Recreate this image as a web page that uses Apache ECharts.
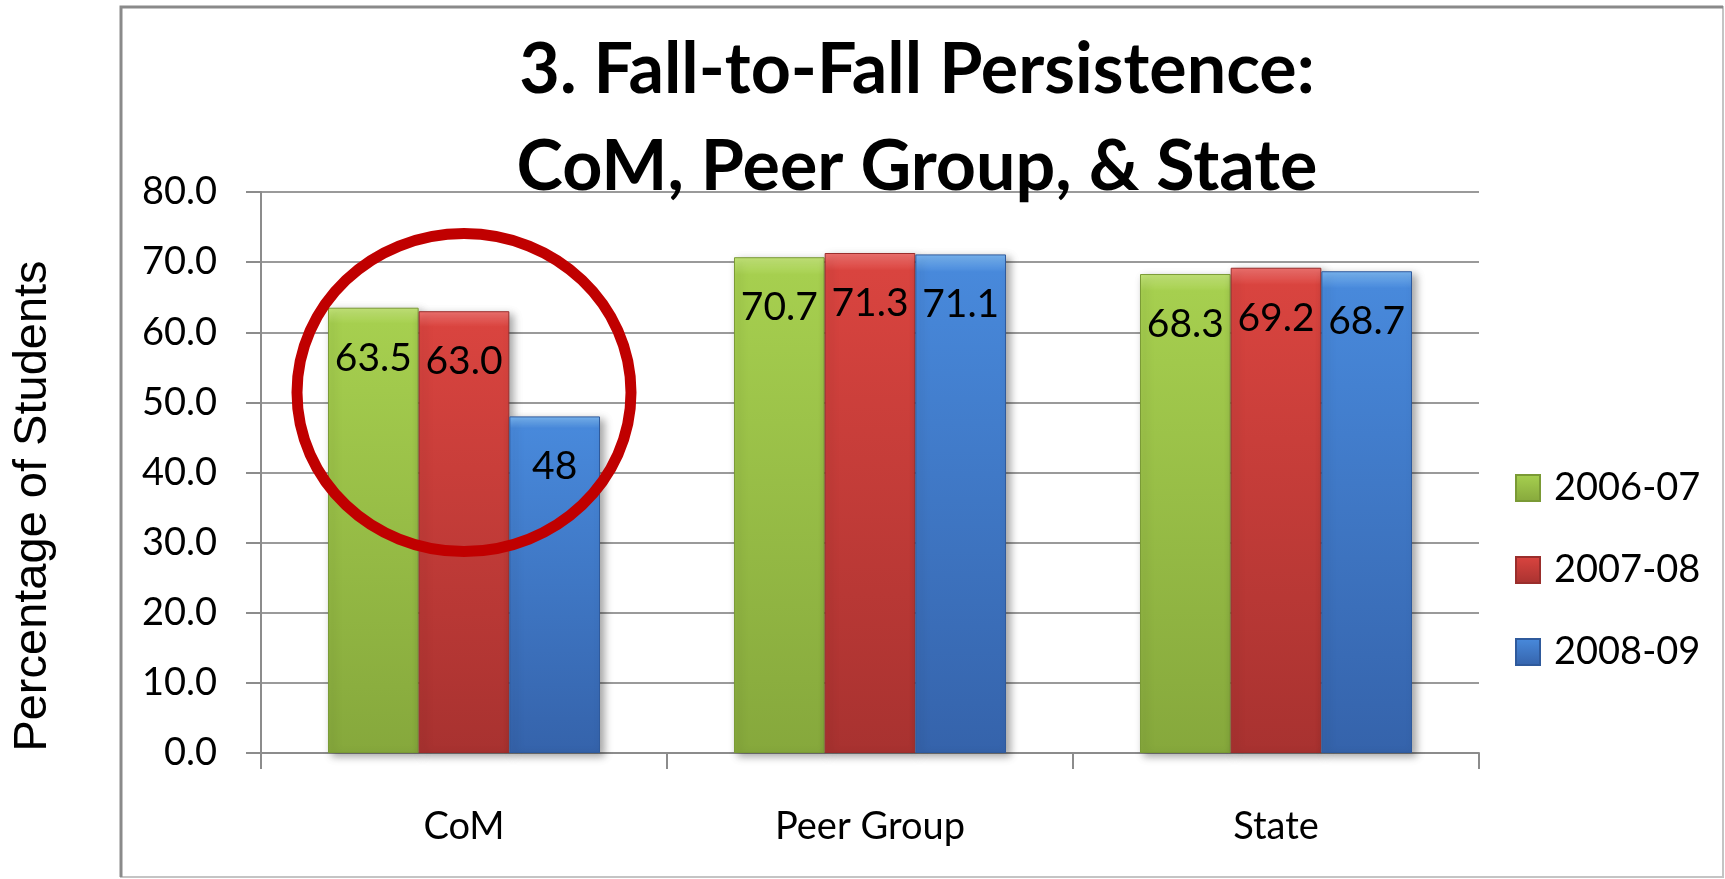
<!DOCTYPE html>
<html>
<head>
<meta charset="utf-8">
<title>Fall-to-Fall Persistence</title>
<script src="https://cdn.jsdelivr.net/npm/echarts@6/dist/echarts.min.js"></script>
<style>
  html, body { margin: 0; padding: 0; background: #fff; }
  #chart { width: 1725px; height: 879px; }
</style>
</head>
<body>
<div id="chart"></div>
<script>
  // data
  const categories = ['CoM', 'Peer Group', 'State'];
  const years = ['2006-07', '2007-08', '2008-09'];
  const persist0607 = [63.5, 70.7, 68.3];
  const persist0708 = [63.0, 71.3, 69.2];
  const persist0809 = [48, 71.1, 68.7];
  const yTicks = [0, 10, 20, 30, 40, 50, 60, 70, 80];

  const font = 'Lato, "Open Sans", sans-serif';

  // light top -> darker bottom, like the office-style bars
  function barColor(light, top, bottom) {
    return new echarts.graphic.LinearGradient(0, 0, 0, 1, [
      {offset: 0, color: light},
      {offset: 0.035, color: top},
      {offset: 1, color: bottom}
    ]);
  }

  function makeSeries(name, data, color, border) {
    return {
      name: name,
      type: 'bar',
      data: data,
      barGap: 0,
      barCategoryGap: '33%',
      itemStyle: {
        color: color,
        borderColor: border,
        borderWidth: 1,
        shadowBlur: 8,
        shadowOffsetX: 4,
        shadowOffsetY: 3,
        shadowColor: 'rgba(0,0,0,0.35)'
      },
      label: {
        show: true,
        position: 'insideTop',
        distance: 31,
        color: '#000',
        fontFamily: font,
        fontSize: 39,
        formatter: function (p) {
          // CoM 2008-09 was typed as "48" in the source
          return p.seriesIndex === 2 && p.dataIndex === 0 ? String(p.value) : p.value.toFixed(1);
        }
      },
      z: 2
    };
  }

  const chart = echarts.init(document.getElementById('chart'));

  chart.setOption({
    animation: false,
    backgroundColor: '#fff',
    title: {
      text: '3. Fall-to-Fall Persistence:\nCoM, Peer Group, & State',
      left: 917,
      top: 22,
      textAlign: 'center',
      padding: 0,
      textStyle: {
        fontFamily: font,
        fontWeight: 'bold',
        fontSize: 70,
        lineHeight: 97,
        color: '#000'
      }
    },
    legend: {
      orient: 'vertical',
      left: 1510,
      top: 464,
      itemWidth: 24,
      itemHeight: 26,
      itemGap: 44,
      icon: 'rect',
      data: years,
      textStyle: {
        fontFamily: font,
        fontSize: 38,
        color: '#000',
        padding: [0, 0, 0, 9]
      }
    },
    grid: {
      left: 261,
      right: 246,
      top: 192,
      bottom: 126,
      containLabel: false
    },
    xAxis: {
      type: 'category',
      data: categories,
      axisLine: {lineStyle: {color: '#8c8c8c', width: 2}},
      axisTick: {show: true, length: 16, interval: 0, lineStyle: {color: '#8c8c8c', width: 2}},
      axisLabel: {margin: 55, color: '#000', fontFamily: font, fontSize: 38},
      splitLine: {show: false}
    },
    yAxis: {
      type: 'value',
      min: yTicks[0],
      max: yTicks[yTicks.length - 1],
      interval: yTicks[1] - yTicks[0],
      axisLine: {show: true, lineStyle: {color: '#8c8c8c', width: 2}},
      axisTick: {show: true, length: 15, lineStyle: {color: '#8c8c8c', width: 2}},
      axisLabel: {
        margin: 44,
        color: '#000',
        fontFamily: font,
        fontSize: 38,
        formatter: function (v) { return v.toFixed(1); }
      },
      splitLine: {lineStyle: {color: '#9a9a9a', width: 2}}
    },
    series: [
      makeSeries(years[0], persist0607, barColor('#c4e67a', '#a6cf4f', '#86a83c'), '#7a9a35'),
      makeSeries(years[1], persist0708, barColor('#f07370', '#d9443f', '#a83230'), '#9a2e2c'),
      makeSeries(years[2], persist0809, barColor('#7ab6f2', '#4889db', '#3563ab'), '#2f5a9c')
    ]
  });

  // chart frame, y axis title and the red highlight ring round CoM
  const ringCenter = chart.convertToPixel({seriesIndex: 0}, ['CoM', 51.4]);

  chart.setOption({
    graphic: [
      {
        type: 'rect',
        shape: {x: 121, y: 7, width: 1602, height: 870},
        style: {fill: 'none', stroke: '#c4c4c4', lineWidth: 2},
        z: 0
      },
      {
        type: 'polyline',
        shape: {points: [[121, 877], [121, 7], [1723, 7]]},
        style: {fill: 'none', stroke: '#8a8a8a', lineWidth: 3},
        z: 0
      },
      {
        type: 'text',
        x: 33,
        y: 506,
        rotation: Math.PI / 2,
        style: {
          text: 'Percentage of Students',
          font: '47px "Liberation Sans", Arial, sans-serif',
          fill: '#000',
          align: 'center',
          verticalAlign: 'middle'
        }
      },
      {
        type: 'ellipse',
        shape: {cx: ringCenter[0], cy: ringCenter[1], rx: 167, ry: 159},
        style: {fill: 'none', stroke: '#c00000', lineWidth: 11},
        z: 100
      }
    ]
  });
</script>
</body>
</html>
